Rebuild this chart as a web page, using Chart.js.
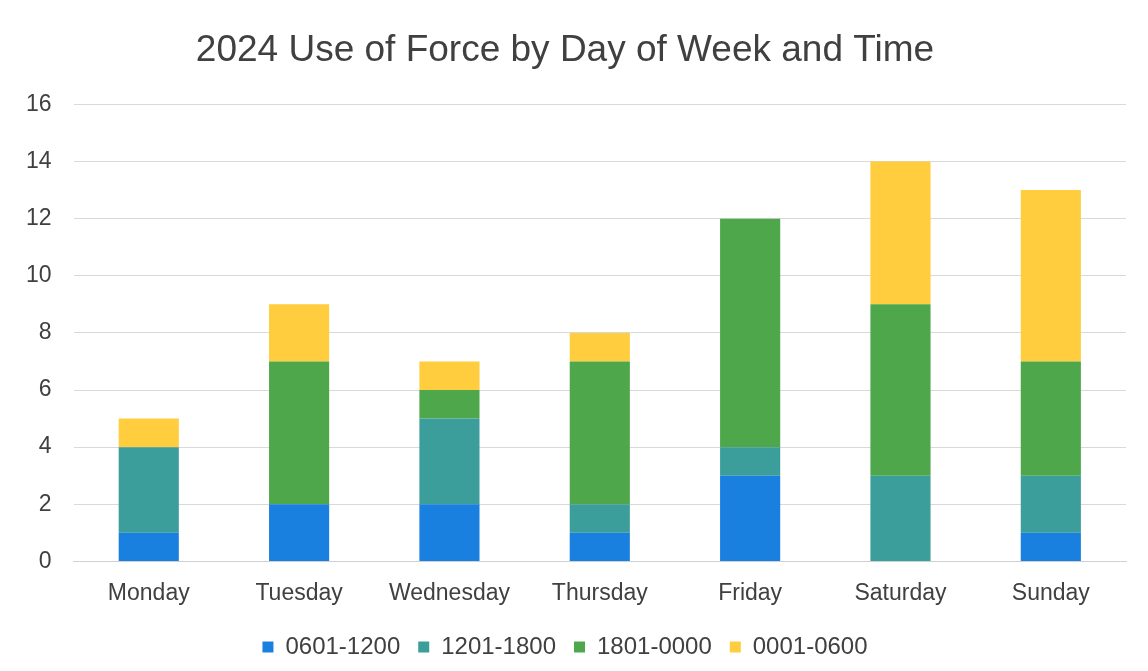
<!DOCTYPE html>
<html>
<head>
<meta charset="utf-8">
<script src="https://cdn.jsdelivr.net/npm/chart.js@4"></script>
<style>
  html, body { margin: 0; padding: 0; background: #fff; }
  #wrap { width: 1148px; height: 671px; }
</style>
</head>
<body>
<div id="wrap"><canvas id="uof"></canvas></div>
<script>
const days = ['Monday', 'Tuesday', 'Wednesday', 'Thursday', 'Friday', 'Saturday', 'Sunday'];
const morning = [1, 2, 2, 1, 3, 0, 1];     // 0601-1200
const afternoon = [3, 0, 3, 1, 1, 3, 2];   // 1201-1800
const evening = [0, 5, 1, 5, 8, 6, 4];     // 1801-0000
const night = [1, 2, 1, 1, 0, 5, 6];       // 0001-0600
const yTicks = [0, 2, 4, 6, 8, 10, 12, 14, 16];

const textColor = '#404040';
const font = 'Liberation Sans, Arial, sans-serif';

function series(label, values, color) {
    return {
        label: label,
        data: values,
        backgroundColor: color,
        borderWidth: 0,
        barPercentage: 0.4,
        categoryPercentage: 1.0
    };
}

new Chart(document.getElementById('uof').getContext('2d'), {
    type: 'bar',
    data: {
        labels: days,
        datasets: [
            series('0601-1200', morning, '#1a80e0'),
            series('1201-1800', afternoon, '#3c9e9b'),
            series('1801-0000', evening, '#4fa74c'),
            series('0001-0600', night, '#ffcd3e')
        ]
    },
    options: {
        responsive: true,
        maintainAspectRatio: false,
        animation: false,
        layout: { padding: { left: 4, right: 22, top: 29, bottom: 2 } },
        plugins: {
            title: {
                display: true,
                text: '2024 Use of Force by Day of Week and Time',
                color: textColor,
                font: { family: font, size: 37, weight: 'normal' },
                padding: { top: 0, bottom: 31 }
            },
            legend: {
                position: 'bottom',
                labels: {
                    color: textColor,
                    font: { family: font, size: 24 },
                    boxWidth: 11,
                    boxHeight: 11,
                    padding: 18
                }
            },
            tooltip: { enabled: false }
        },
        scales: {
            x: {
                stacked: true,
                grid: { display: false },
                border: { display: true, color: '#d0d0d0' },
                ticks: { color: textColor, font: { family: font, size: 23 }, padding: 10 }
            },
            y: {
                stacked: true,
                min: 0,
                max: 16,
                afterBuildTicks: function(axis) {
                    axis.ticks = yTicks.map(function(v) { return { value: v }; });
                },
                grid: { color: '#d9d9d9', drawTicks: false },
                border: { display: false },
                ticks: { color: textColor, font: { family: font, size: 23 }, padding: 22 }
            }
        }
    }
});
</script>
</body>
</html>
